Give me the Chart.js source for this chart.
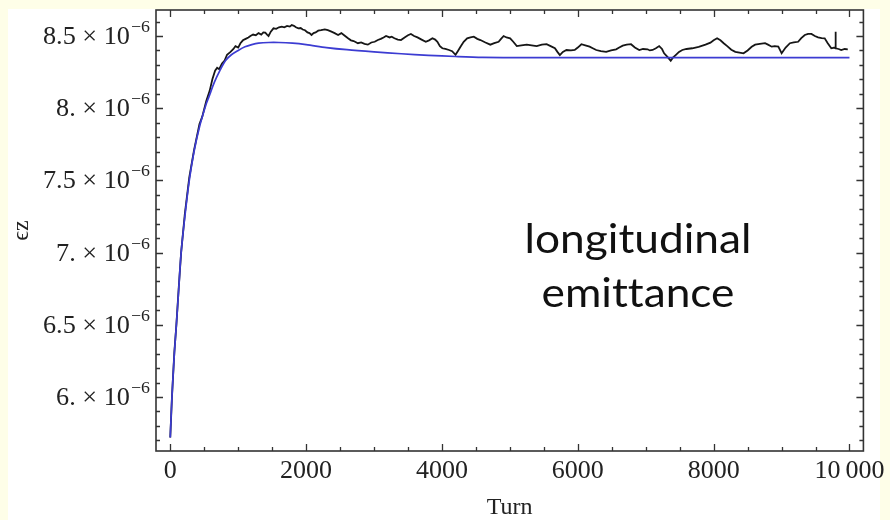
<!DOCTYPE html>
<html>
<head>
<meta charset="utf-8">
<script src="https://cdn.jsdelivr.net/npm/chart.js@4.4.1/dist/chart.umd.min.js"></script>
<style>
  html, body { margin: 0; padding: 0; background: #fefee8; }
  canvas { display: block; }
</style>
</head>
<body>
<canvas id="emitChart" width="890" height="520"></canvas>
<script>
// tracking run: longitudinal emittance per turn (units of 1e-6)
const simTurns = [0, 25, 60, 90, 125, 160, 215, 280, 350, 430, 470, 530, 580, 620, 660, 690, 720, 762, 800, 836, 887, 930, 960, 1000,
  1033, 1070, 1110, 1150, 1180, 1220, 1260, 1300, 1340, 1370, 1399, 1425, 1447, 1480, 1520, 1560, 1600, 1642, 1680, 1720, 1760,
  1788, 1820, 1850, 1886, 1920, 1950, 1984, 2020, 2050, 2080, 2110, 2140, 2178, 2220, 2276, 2320, 2373, 2420, 2471, 2519, 2560,
  2617, 2660, 2700, 2763, 2810, 2860, 2909, 2960, 3010, 3056, 3100, 3140, 3177, 3230, 3260, 3300, 3350, 3397, 3450, 3500, 3543,
  3590, 3640, 3700, 3762, 3810, 3860, 3900, 3933, 3970, 4006, 4050, 4104, 4150, 4200, 4240, 4273, 4320, 4371, 4420, 4469, 4520,
  4566, 4640, 4712, 4770, 4834, 4870, 4908, 4950, 5004, 5050, 5102, 5170, 5249, 5320, 5395, 5470, 5541, 5600, 5663, 5700, 5736,
  5780, 5833, 5900, 5955, 6000, 6053, 6110, 6174, 6220, 6272, 6340, 6418, 6490, 6564, 6610, 6662, 6720, 6784, 6840, 6905, 6960,
  7028, 7060, 7101, 7150, 7198, 7240, 7271, 7320, 7368, 7400, 7441, 7490, 7539, 7600, 7685, 7780, 7880, 7953, 8000, 8051, 8100,
  8148, 8200, 8260, 8319, 8380, 8440, 8500, 8560, 8611, 8680, 8757, 8800, 8855, 8900, 8952, 8980, 9001, 9060, 9123, 9180, 9244,
  9290, 9342, 9390, 9440, 9490, 9537, 9590, 9635, 9680, 9732, 9780, 9792, 9795, 9798, 9840, 9878, 9930, 9975];
const simEmit = [5.72, 6.0, 6.31, 6.5, 6.76, 7.0, 7.27, 7.52, 7.71, 7.89, 7.94, 8.05, 8.12, 8.2, 8.26, 8.28, 8.27, 8.31, 8.33, 8.37, 8.39, 8.41, 8.43, 8.42,
  8.45, 8.47, 8.48, 8.49, 8.5, 8.51, 8.505, 8.52, 8.51, 8.525, 8.523, 8.51, 8.5, 8.53, 8.553, 8.55, 8.56, 8.565, 8.56, 8.57, 8.565,
  8.576, 8.57, 8.56, 8.553, 8.555, 8.545, 8.54, 8.525, 8.52, 8.507, 8.52, 8.525, 8.537, 8.54, 8.546, 8.54, 8.53, 8.52, 8.507, 8.52, 8.505,
  8.484, 8.47, 8.465, 8.45, 8.455, 8.445, 8.44, 8.455, 8.46, 8.472, 8.48, 8.49, 8.5, 8.49, 8.495, 8.484, 8.475, 8.472, 8.49, 8.505, 8.514,
  8.5, 8.49, 8.475, 8.46, 8.47, 8.484, 8.475, 8.46, 8.43, 8.415, 8.41, 8.403, 8.395, 8.37, 8.4, 8.426, 8.46, 8.484, 8.49, 8.495, 8.48,
  8.472, 8.455, 8.44, 8.45, 8.46, 8.48, 8.5, 8.49, 8.484, 8.46, 8.43, 8.435, 8.44, 8.435, 8.43, 8.44, 8.443, 8.43, 8.415, 8.39, 8.368,
  8.39, 8.403, 8.4, 8.403, 8.42, 8.443, 8.435, 8.426, 8.415, 8.403, 8.395, 8.39, 8.4, 8.408, 8.42, 8.433, 8.44, 8.443, 8.42, 8.403, 8.41,
  8.408, 8.4, 8.403, 8.415, 8.43, 8.41, 8.38, 8.355, 8.329, 8.35, 8.368, 8.39, 8.403, 8.41, 8.415, 8.425, 8.44, 8.454, 8.47, 8.484, 8.47,
  8.45, 8.43, 8.405, 8.39, 8.385, 8.38, 8.4, 8.425, 8.44, 8.445, 8.45, 8.44, 8.426, 8.43, 8.426, 8.4, 8.38, 8.42, 8.45, 8.455, 8.46,
  8.485, 8.507, 8.515, 8.514, 8.5, 8.49, 8.485, 8.484, 8.45, 8.415, 8.42, 8.415, 8.53, 8.415, 8.41, 8.403, 8.41, 8.408];

// fitted curve
const fitTurns = [0, 25, 60, 90, 125, 160, 215, 280, 350, 430, 530, 570, 650, 730, 814, 900, 1000, 1100, 1200, 1300, 1450, 1600,
  1800, 2000, 2300, 2600, 3000, 3400, 3800, 4200, 4600, 5200, 6000, 8000, 10000];
const fitEmit = [5.72, 6.0, 6.3, 6.5, 6.75, 7.0, 7.25, 7.5, 7.7, 7.87, 8.03, 8.08, 8.18, 8.26, 8.33, 8.37, 8.4, 8.425, 8.44, 8.45, 8.455, 8.455,
  8.45, 8.44, 8.42, 8.405, 8.39, 8.377, 8.366, 8.358, 8.352, 8.35, 8.35, 8.35, 8.35];

const turnTicks = [0, 2000, 4000, 6000, 8000, 10000];
const turnMinorTicks = [500, 1000, 1500, 2500, 3000, 3500, 4500, 5000, 5500, 6500, 7000, 7500, 8500, 9000, 9500];
const emitTicks = [6, 6.5, 7, 7.5, 8, 8.5];
const emitMinorTicks = [5.7, 5.8, 5.9, 6.1, 6.2, 6.3, 6.4, 6.6, 6.7, 6.8, 6.9, 7.1, 7.2, 7.3, 7.4,
  7.6, 7.7, 7.8, 7.9, 8.1, 8.2, 8.3, 8.4, 8.6];

const serif = '"Liberation Serif", "DejaVu Serif", serif';
const inkColor = '#222';

// mathematica-style frame: box with inward ticks on all four sides, plus the y labels with exponents
const framePlugin = {
  id: 'framePlugin',
  beforeDraw(chart) {
    const {ctx} = chart;
    ctx.save();
    ctx.fillStyle = '#fefee8';
    ctx.fillRect(0, 0, chart.width, chart.height);
    ctx.fillStyle = '#ffffff';
    ctx.fillRect(8, 9, 872, 511);
    ctx.restore();
  },
  afterDraw(chart) {
    const {ctx, chartArea: a, scales: {x, y}} = chart;
    ctx.save();
    ctx.strokeStyle = '#333';
    ctx.lineWidth = 1.3;
    ctx.beginPath();
    const xTick = (vals, len) => vals.forEach(v => {
      const px = Math.round(x.getPixelForValue(v)) + 0.5;
      ctx.moveTo(px, a.bottom); ctx.lineTo(px, a.bottom - len);
      ctx.moveTo(px, a.top); ctx.lineTo(px, a.top + len);
    });
    const yTick = (vals, len) => vals.forEach(v => {
      const py = Math.round(y.getPixelForValue(v)) + 0.5;
      ctx.moveTo(a.left, py); ctx.lineTo(a.left + len, py);
      ctx.moveTo(a.right, py); ctx.lineTo(a.right - len, py);
    });
    xTick(turnTicks, 7);
    xTick(turnMinorTicks, 4);
    yTick(emitTicks, 7);
    yTick(emitMinorTicks, 4);
    ctx.stroke();
    ctx.lineWidth = 1.6;
    ctx.strokeRect(a.left, a.top, a.right - a.left, a.bottom - a.top);

    // y tick labels: "8.5 × 10^-6"
    ctx.fillStyle = inkColor;
    ctx.textAlign = 'right';
    ctx.textBaseline = 'alphabetic';
    const rightEdge = a.left - 6;
    emitTicks.forEach(v => {
      const py = y.getPixelForValue(v);
      const mant = (Number.isInteger(v) ? v + '.' : String(v)) + ' \u00d7 10';
      ctx.save();
      ctx.translate(rightEdge, 0);
      ctx.scale(1.05, 1);
      ctx.font = '17px ' + serif;
      ctx.fillText('\u22126', 0, py - 4);
      const supW = ctx.measureText('\u22126').width;
      ctx.font = '25px ' + serif;
      ctx.fillText(mant, -supW - 1, py + 8);
      ctx.restore();
    });

    // annotation
    ctx.fillStyle = '#111';
    ctx.textAlign = 'center';
    ctx.font = '40px Lato, "Open Sans", sans-serif';
    const sx = 227 / ctx.measureText('longitudinal').width;
    ctx.save();
    ctx.translate(638, 0);
    ctx.scale(sx, 1);
    ctx.fillText('longitudinal', 0, 253);
    ctx.fillText('emit\u200ctance', 0, 307);
    ctx.restore();
    ctx.restore();
  }
};

const ctx = document.getElementById('emitChart').getContext('2d');
const emitChart = new Chart(ctx, {
  type: 'line',
  data: {
    datasets: [{
      label: 'fit',
      data: fitTurns.map((t, i) => ({x: t, y: fitEmit[i]})),
      borderColor: '#3c3cd2',
      borderWidth: 1.7,
      pointRadius: 0,
      tension: 0.3,
      order: 0
    }, {
      label: 'simulation',
      data: simTurns.map((t, i) => ({x: t, y: simEmit[i]})),
      borderColor: '#161616',
      borderWidth: 1.8,
      pointRadius: 0,
      tension: 0,
      order: 1
    }]
  },
  options: {
    responsive: false,
    animation: false,
    devicePixelRatio: 1,
    layout: {
      padding: {left: 10, right: 21, top: 10, bottom: 0}
    },
    plugins: {
      legend: {display: false},
      tooltip: {enabled: false}
    },
    scales: {
      x: {
        type: 'linear',
        min: -210,
        max: 10205,
        afterBuildTicks: s => { s.ticks = turnTicks.map(v => ({value: v})); },
        afterFit: s => { s.height = 69; },
        grid: {display: false, drawTicks: false},
        border: {display: false},
        ticks: {
          color: inkColor,
          font: {family: serif, size: 26},
          padding: 5,
          maxRotation: 0,
          autoSkip: false,
          callback: v => v === 10000 ? '10\u2009000' : String(v)
        },
        title: {
          display: true,
          text: 'Turn',
          color: inkColor,
          font: {family: serif, size: 24, lineHeight: 1},
          padding: 0
        }
      },
      y: {
        min: 5.626,
        max: 8.68,
        afterBuildTicks: s => { s.ticks = emitTicks.map(v => ({value: v})); },
        afterFit: s => { s.width = 146; },
        grid: {display: false, drawTicks: false},
        border: {display: false},
        ticks: {display: false},
        title: {
          display: true,
          text: '\u03f5z',
          color: inkColor,
          font: {family: serif, size: 24, lineHeight: 1},
          padding: 0
        }
      }
    }
  },
  plugins: [framePlugin]
});
</script>
</body>
</html>
